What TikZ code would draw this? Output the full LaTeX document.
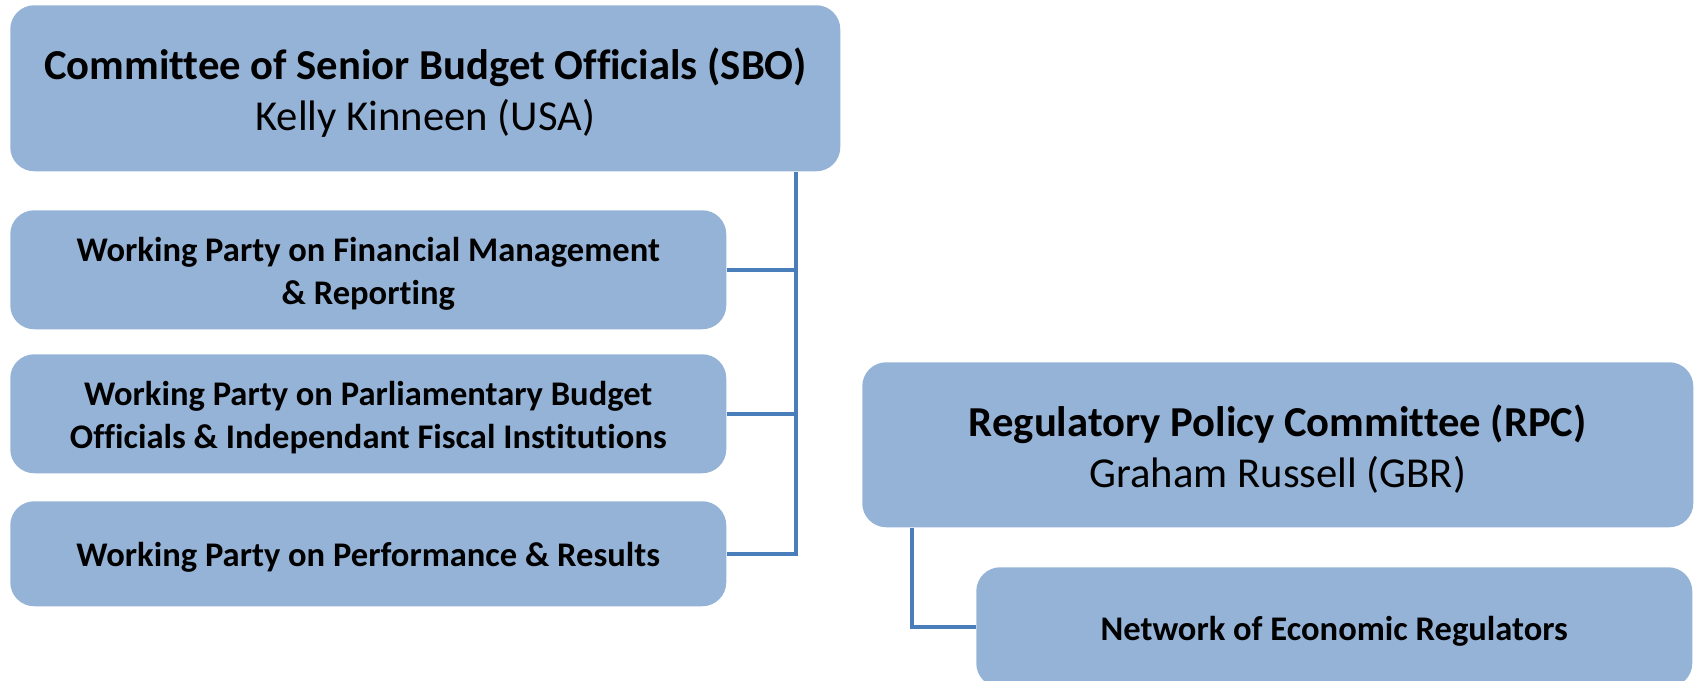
\documentclass[tikz,border=0pt]{standalone}
\usepackage{fontspec}
\setmainfont{Carlito}[Ligatures=NoCommon]
\definecolor{boxfill}{HTML}{95B3D7}
\definecolor{linkcol}{HTML}{4A7EBB}
\begin{document}
\begin{tikzpicture}[x=0.75pt,y=-0.75pt,
  box/.style={fill=boxfill, draw=none, rounded corners=18pt, anchor=north west, inner sep=0pt},
  bigtext/.style={align=center, yshift=-3pt, font=\fontsize{32pt}{38.25pt}\selectfont},
  smalltext/.style={align=center, yshift=-3pt, font=\bfseries\fontsize{25.9pt}{32.25pt}\selectfont},
  link/.style={draw=linkcol, line width=3pt}]
\useasboundingbox (0,0) rectangle (1696,681);
\node[box, minimum width=622.5pt, minimum height=124.5pt,
  label={[bigtext]center:{\textbf{Committee of Senior Budget Officials (SBO)}\\Kelly Kinneen (USA)}}] (sbo) at (10,5) {};
\node[box, minimum width=537pt, minimum height=89.25pt,
  label={[smalltext]center:{Working Party on Financial Management\\\& Reporting}}] (wp1) at (10,210) {};
\node[box, minimum width=537pt, minimum height=89.25pt,
  label={[smalltext]center:{Working Party on Parliamentary Budget\\Officials \& Independant Fiscal Institutions}}] (wp2) at (10,354) {};
\node[box, minimum width=537pt, minimum height=78.75pt,
  label={[smalltext]center:{Working Party on Performance \& Results}}] (wp3) at (10,501) {};
\node[box, minimum width=623.25pt, minimum height=123.75pt,
  label={[bigtext]center:{\textbf{Regulatory Policy Committee (RPC)}\\Graham Russell (GBR)}}] (rpc) at (862,362) {};
\node[box, minimum width=537pt, minimum height=90pt,
  label={[smalltext]center:{Network of Economic Regulators}}] (ner) at (976,567) {};
\coordinate (trunk) at (796,0);
\coordinate (rtrunk) at (912,0);
\draw[link] (sbo.south -| trunk) -- (wp3.east -| trunk) -- (wp3.east);
\draw[link] (wp1.east) -- (wp1.east -| trunk);
\draw[link] (wp2.east) -- (wp2.east -| trunk);
\draw[link] (rpc.south -| rtrunk) |- (ner.west);
\end{tikzpicture}
\end{document}
